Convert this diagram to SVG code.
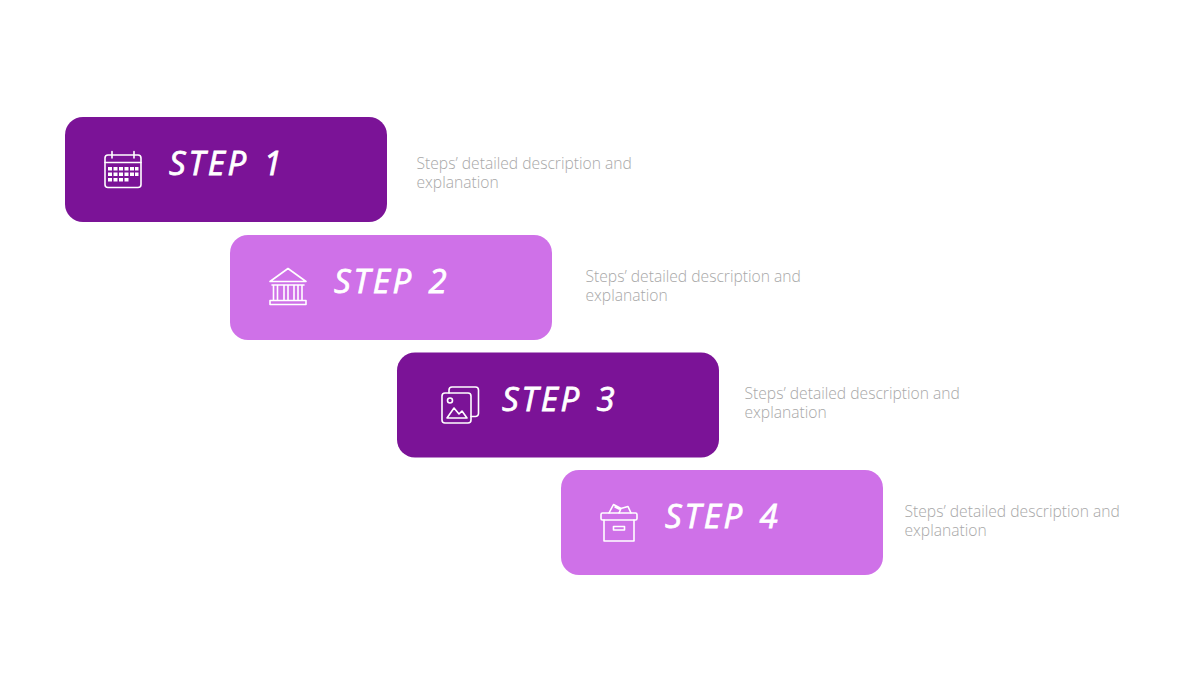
<svg xmlns="http://www.w3.org/2000/svg" width="1200" height="675" viewBox="0 0 1200 675">
<style>
.dark{fill:#7b1397}
.light{fill:#cf71e8}
.title{font-family:"Open Sans","Liberation Sans",sans-serif;font-style:italic;font-size:33px;font-weight:400;fill:#fff;stroke:#fff;stroke-width:.8;letter-spacing:2.8px;word-spacing:3px}
.desc{font-family:"Open Sans","Liberation Sans",sans-serif;font-weight:300;font-size:15.65px;fill:#a8a8a8}
.ic{fill:none;stroke:#fff;stroke-width:1.6;stroke-linejoin:round;stroke-linecap:round}
.dot{fill:#fff}
</style>
<rect width="1200" height="675" fill="#fff"/>
<g id="connectors"></g>
<g id="step1">
<rect class="dark" x="65" y="117" width="322" height="105" rx="18"/>
<g class="ic">
<rect x="105" y="155" width="36" height="32.500" rx="3"/>
<path d="M105 162.500H141M112 151.500V158M134 151.500V158"/>
</g>
<path class="dot" d="M108 167h4v3.500h-4zM113.500 167h4v3.500h-4zM119 167h4v3.500h-4zM124.500 167h4v3.500h-4zM130 167h4v3.500h-4zM135 167h3.500v3.500h-3.500zM108 172.500h4v3.500h-4zM113.500 172.500h4v3.500h-4zM119 172.500h4v3.500h-4zM124.500 172.500h4v3.500h-4zM130 172.500h4v3.500h-4zM135 172.500h3.500v3.500h-3.500zM108 178h4v3.500h-4zM113.500 178h4v3.500h-4zM119 178h4v3.500h-4zM124.500 178h4v3.500h-4z"/>
<text class="title" x="169" y="175">STEP 1</text>
<text class="desc"><tspan x="416.500" y="169.300">Steps’ detailed description and</tspan><tspan x="416.500" y="188.300">explanation</tspan></text>
</g>
<g id="step2">
<rect class="light" x="230" y="235" width="322" height="105" rx="18"/>
<g class="ic">
<path d="M288 268.500L270 281.500H306ZM272 285H304M270 304.500H306V300.500H270ZM273.500 300.500V285M277.500 300.500V285M284 300.500V285M288 300.500V285M294 300.500V285M298 300.500V285M302 300.500V285"/>
</g>
<text class="title" x="334" y="293">STEP 2</text>
<text class="desc"><tspan x="585.500" y="282.300">Steps’ detailed description and</tspan><tspan x="585.500" y="301.300">explanation</tspan></text>
</g>
<g id="step3">
<rect class="dark" x="397" y="352.500" width="322" height="105" rx="18"/>
<g class="ic">
<rect x="442" y="393" width="29" height="30" rx="3"/>
<path d="M449 393V390a3 3 0 0 1 3-3H475.500a3 3 0 0 1 3 3V413.500a3 3 0 0 1-3 3H471"/>
<circle cx="450" cy="400.500" r="2.500"/>
<path d="M447 418L454 408L459 414L462 411L467 418Z"/>
</g>
<text class="title" x="502" y="411">STEP 3</text>
<text class="desc"><tspan x="744.500" y="399.300">Steps’ detailed description and</tspan><tspan x="744.500" y="418.300">explanation</tspan></text>
</g>
<g id="step4">
<rect class="light" x="561" y="470" width="322" height="105" rx="18"/>
<g class="ic">
<rect x="601" y="513" width="36" height="7" rx="1.500"/>
<path d="M604 520V541H634V520M613.500 526.500H624.500V530H613.500ZM609 513L613.500 504.500L621 508.500L619 513M615 507L619 509L628 506.500L631 513"/>
</g>
<text class="title" x="665" y="528">STEP 4</text>
<text class="desc"><tspan x="904.500" y="517.300">Steps’ detailed description and</tspan><tspan x="904.500" y="536.300">explanation</tspan></text>
</g>
</svg>
